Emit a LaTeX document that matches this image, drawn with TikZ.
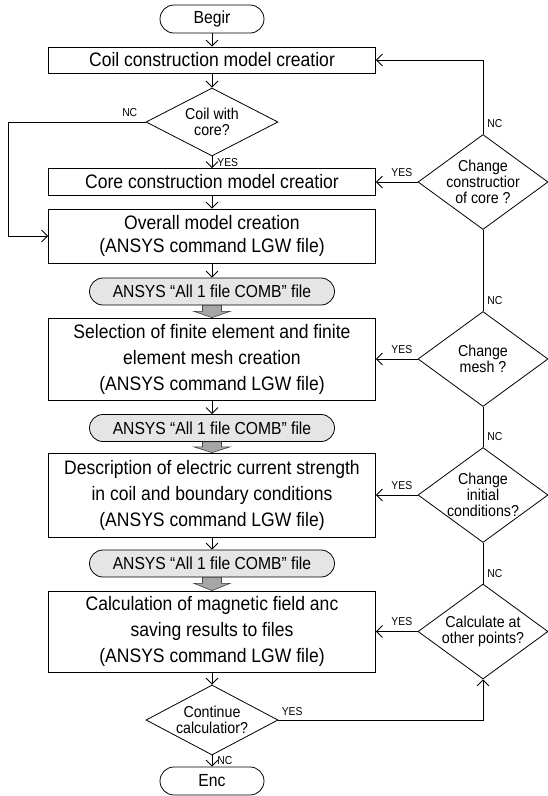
\documentclass[tikz,border=0pt]{standalone}
\usepackage{fontspec}
\setmainfont{Liberation Sans}[FakeStretch=0.9]
\usetikzlibrary{arrows.meta,shapes.geometric,calc}
\tikzset{
  proc/.style={draw, rectangle, minimum width=327pt, inner sep=0pt, align=center, font=\fontsize{19.5}{26}\selectfont},
  term/.style={draw, rounded corners=14pt, minimum width=104pt, minimum height=28pt, inner sep=0pt, font=\fontsize{17.5}{18}\selectfont},
  filebox/.style={draw, fill=black!10, rounded corners=13.5pt, minimum width=245pt, minimum height=27pt, inner sep=0pt, font=\fontsize{17.4}{18}\selectfont},
  dec/.style={draw, diamond, inner sep=0pt, minimum width=#1},
  dtext/.style={align=center, inner sep=0pt, font=\fontsize{15.8}{16}\selectfont},
  lbl/.style={inner sep=0pt, font=\fontsize{11.5}{12}\selectfont},
  arr/.style={-{Straight Barb[length=6pt,width=12pt]}},
  garrow/.style={draw=black!75, fill=black!35, line width=0.6pt},
}
\begin{document}
\begin{tikzpicture}[x=1pt, y=-1pt, line width=0.8pt]
\useasboundingbox (0,0) rectangle (548,796);
% main column
\node[term] (begin) at (212,19) {Begir};
\node[proc, minimum height=26pt] (coil) at (212,60) {Coil construction model creatior};
\node[dec=132pt, minimum height=68pt] (d1) at (212,122) {};
\node[dtext] (d1t) at (d1.center) {Coil with\\core?};
\node[proc, minimum height=27pt] (core) at (212,182) {Core construction model creatior};
\node[proc, minimum height=54pt, font=\fontsize{19.5}{23}\selectfont] (overall) at (212,236) {Overall model creation\\(ANSYS command LGW file)};
\node[filebox] (f1) at (212,291.5) {ANSYS “All 1 file COMB” file};
\node[proc, minimum height=82pt] (sel) at (212,359) {Selection of finite element and finite\\element mesh creation\\(ANSYS command LGW file)};
\node[filebox] (f2) at (212,428) {ANSYS “All 1 file COMB” file};
\node[proc, minimum height=84pt] (desc) at (212,495) {Description of electric current strength\\in coil and boundary conditions\\(ANSYS command LGW file)};
\node[filebox] (f3) at (212,563.5) {ANSYS “All 1 file COMB” file};
\node[proc, minimum height=81pt] (calc) at (212,631.5) {Calculation of magnetic field anc\\saving results to files\\(ANSYS command LGW file)};
\node[dec=132pt, minimum height=70pt] (d2) at (212,720) {};
\node[dtext] (d2t) at (d2.center) {Continue\\calculatior?};
\node[term] (end) at (212,781) {Enc};
% right column
\node[dec=130pt, minimum height=95pt] (r1) at (483,182) {};
\node[dtext] (r1t) at (r1.center) {Change\\constructior\\of core ?};
\node[dec=130pt, minimum height=95pt] (r2) at (483,359) {};
\node[dtext] (r2t) at (r2.center) {Change\\mesh ?};
\node[dec=130pt, minimum height=95pt] (r3) at (483,495) {};
\node[dtext] (r3t) at (r3.center) {Change\\initial\\conditions?};
\node[dec=130pt, minimum height=95pt] (r4) at (483,631.5) {};
\node[dtext] (r4t) at (r4.center) {Calculate at\\other points?};
\coordinate (lft) at (8,0);
% main flow
\draw[arr] (begin) -- (coil);
\draw[arr] (coil) -- (d1);
\draw[arr] (d1) -- (core);
\node[lbl, anchor=west] (y1) at ([xshift=5pt]$(d1.south)!0.5!(core.north)$) {YES};
\draw[arr] (d1.west) -- (d1.west -| lft) |- (overall.west);
\node[lbl, anchor=south east] (n1) at ([xshift=-8pt,yshift=5pt]d1.west) {NC};
\draw[arr] (core) -- (overall);
\draw[arr] (overall) -- (f1);
\draw[garrow] ([xshift=-9.5pt]f1.south) -- ([xshift=-9.5pt,yshift=-6pt]f1.south) -- ([xshift=-18pt,yshift=-6pt]f1.south) -- (sel.north) -- ([xshift=18pt,yshift=-6pt]f1.south) -- ([xshift=9.5pt,yshift=-6pt]f1.south) -- ([xshift=9.5pt]f1.south) -- cycle;
\draw[arr] (sel) -- (f2);
\draw[garrow] ([xshift=-9.5pt]f2.south) -- ([xshift=-9.5pt,yshift=-5pt]f2.south) -- ([xshift=-18pt,yshift=-5pt]f2.south) -- (desc.north) -- ([xshift=18pt,yshift=-5pt]f2.south) -- ([xshift=9.5pt,yshift=-5pt]f2.south) -- ([xshift=9.5pt]f2.south) -- cycle;
\draw[arr] (desc) -- (f3);
\draw[garrow] ([xshift=-9.5pt]f3.south) -- ([xshift=-9.5pt,yshift=-6pt]f3.south) -- ([xshift=-18pt,yshift=-6pt]f3.south) -- (calc.north) -- ([xshift=18pt,yshift=-6pt]f3.south) -- ([xshift=9.5pt,yshift=-6pt]f3.south) -- ([xshift=9.5pt]f3.south) -- cycle;
\draw[arr] (calc) -- (d2);
\draw[arr] (d2) -- (end);
\node[lbl, anchor=west] (n2) at ([xshift=5pt]$(d2.south)!0.5!(end.north)$) {NC};
\draw[arr] (d2.east) -| (r4.south);
\node[lbl, anchor=south west] (y2) at ([xshift=3pt,yshift=4pt]d2.east) {YES};
% right flow
\draw[arr] (r1.north) |- (coil.east);
\draw (r2.north) -- (r1.south);
\draw (r3.north) -- (r2.south);
\draw (r4.north) -- (r3.south);
\foreach \r in {r1,r2,r3,r4}{
  \node[lbl, anchor=south west] at ([xshift=4pt,yshift=6pt]\r.north) {NC};
  \node[lbl, anchor=south east] at ([xshift=-5pt,yshift=5pt]\r.west) {YES};
}
\draw[arr] (r1.west) -- (core.east);
\draw[arr] (r2.west) -- (sel.east);
\draw[arr] (r3.west) -- (desc.east);
\draw[arr] (r4.west) -- (calc.east);
\end{tikzpicture}
\end{document}
